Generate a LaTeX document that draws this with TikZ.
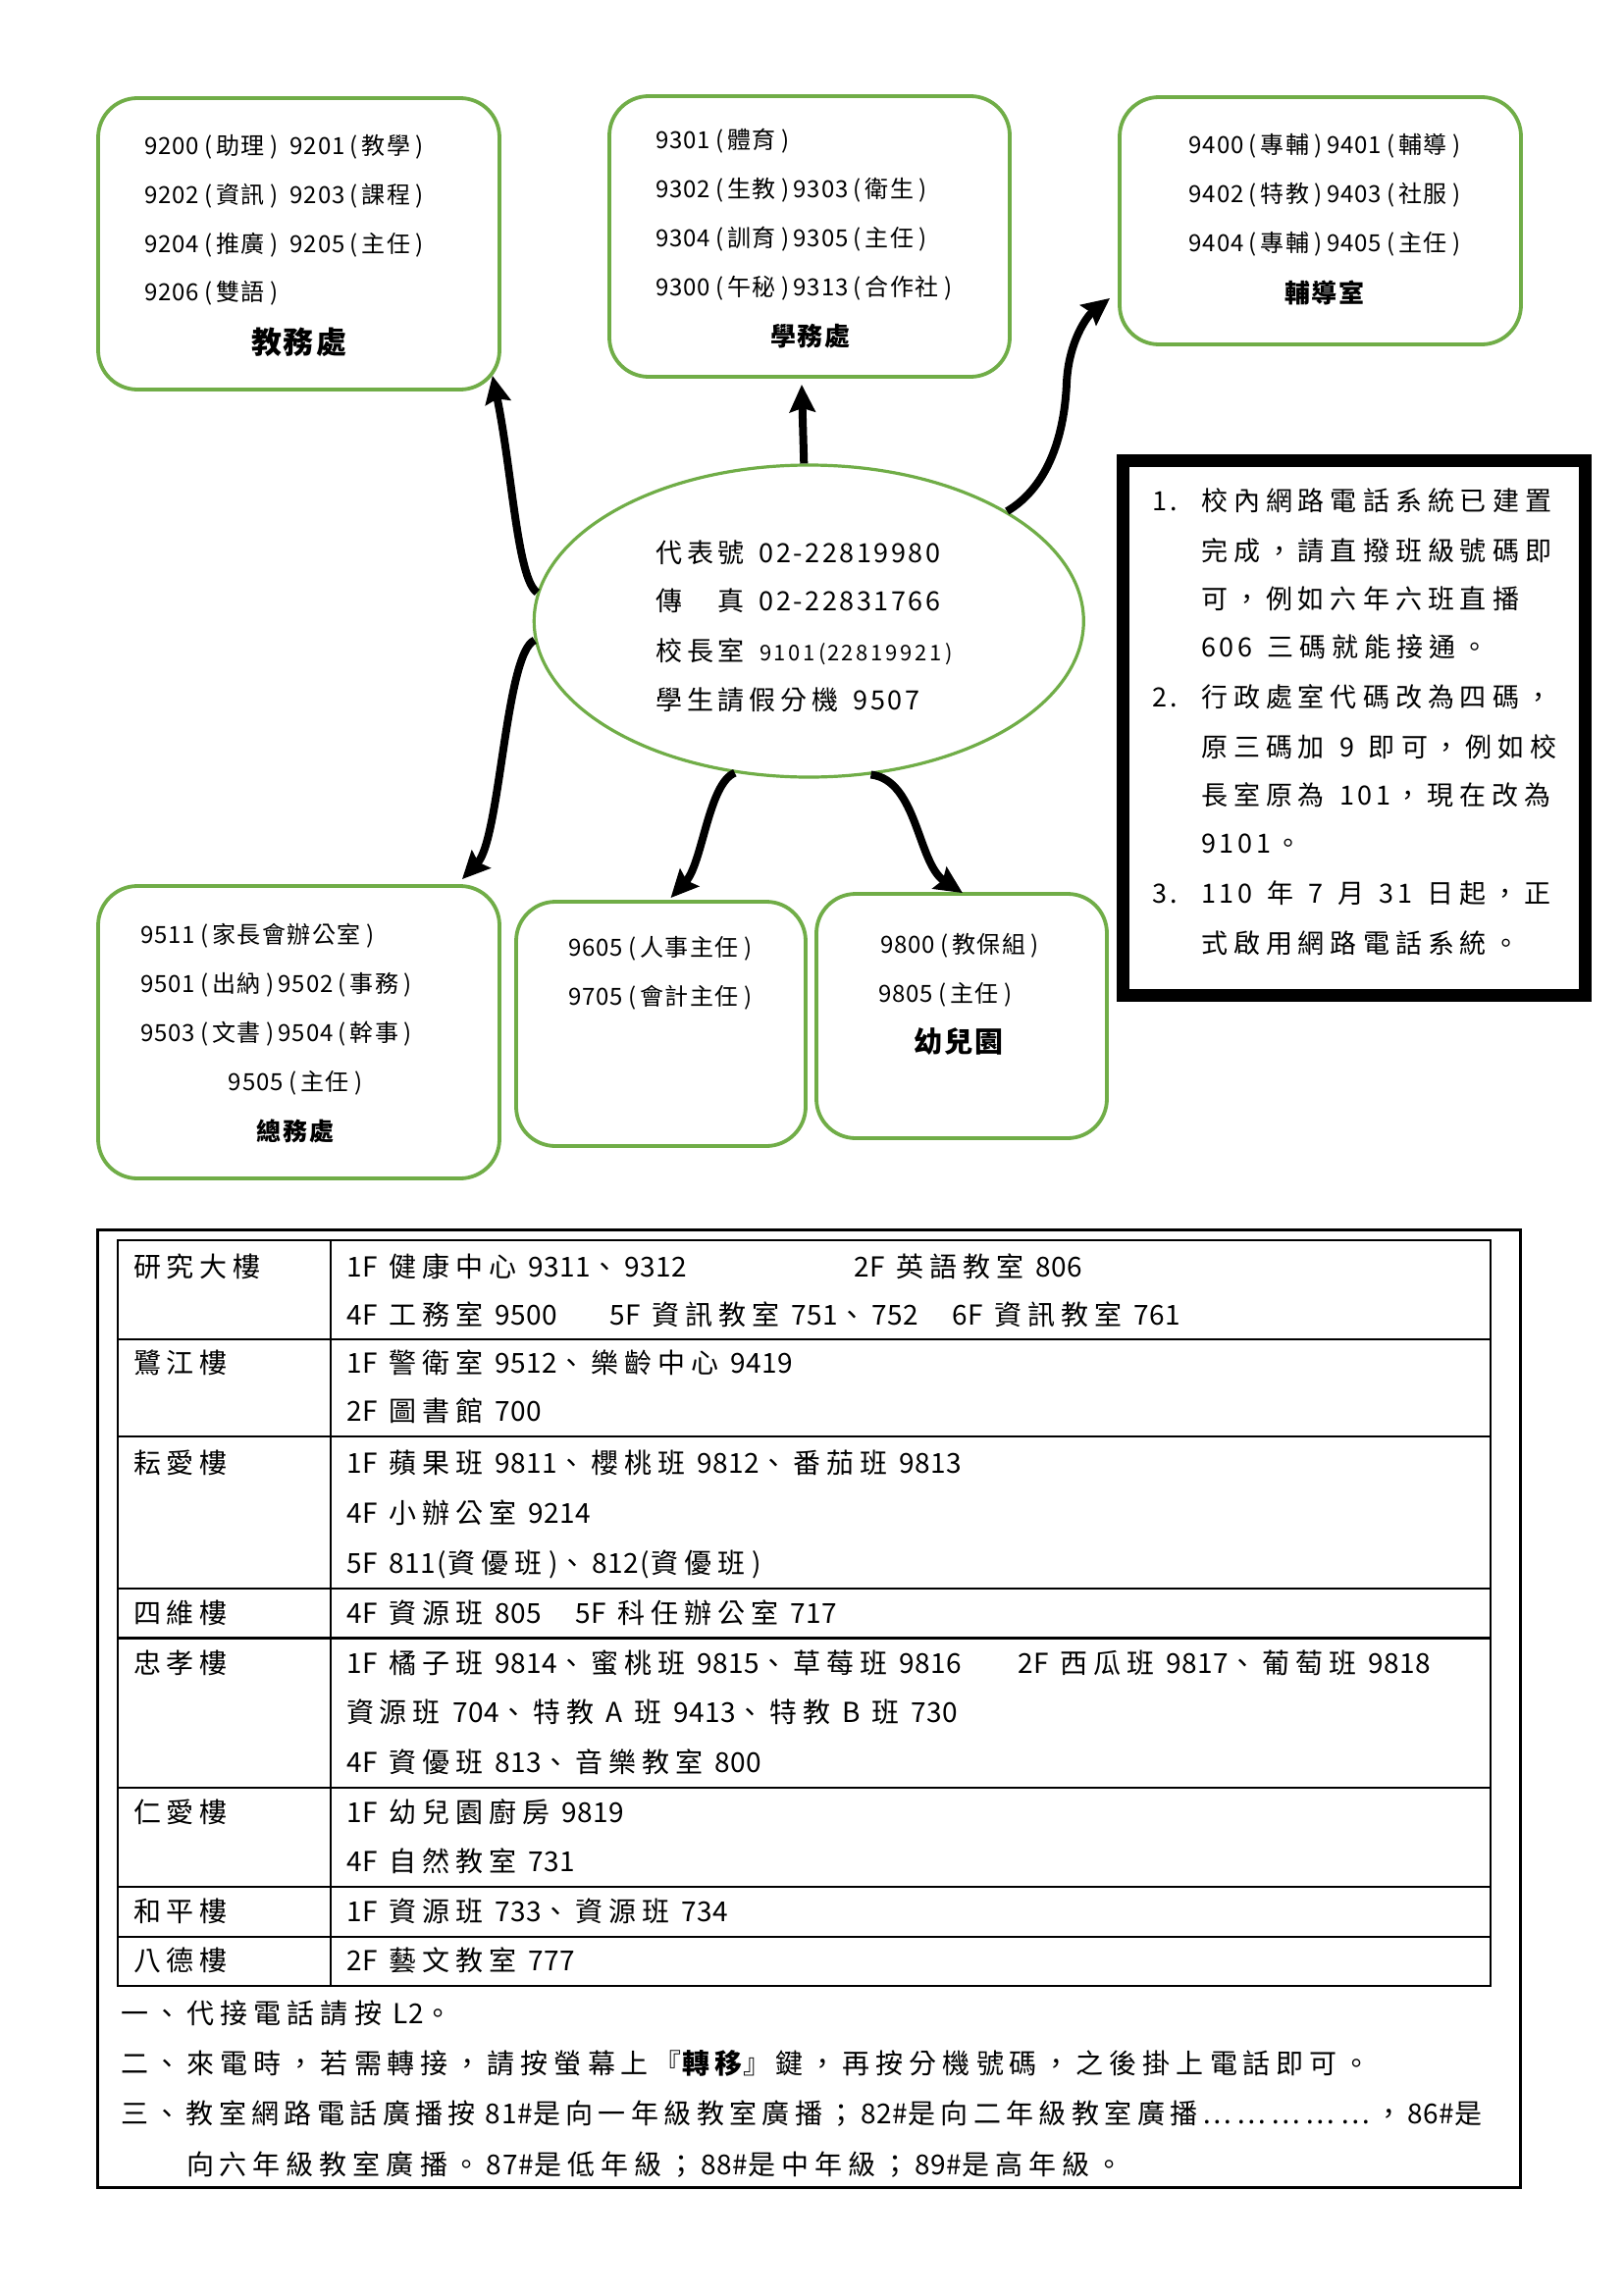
\documentclass[tikz,border=0pt]{standalone}
\usepackage{fontspec}
\setmainfont{Noto Sans CJK TC}
\usetikzlibrary{arrows.meta,shapes.geometric}
\definecolor{boxgreen}{RGB}{112,173,71}

% ---- inter-character spacing classes ----
\XeTeXinterchartokenstate=1
\newXeTeXintercharclass\CJKcls
\newXeTeXintercharclass\DIGcls
\newXeTeXintercharclass\PARcls
\newcount\cc
\cc="2E80 \loop \XeTeXcharclass\cc=\CJKcls \advance\cc by 1 \ifnum\cc<"A000 \repeat
\cc="FF00 \loop \XeTeXcharclass\cc=\CJKcls \advance\cc by 1 \ifnum\cc<"FFF0 \repeat
\XeTeXcharclass"2026=\CJKcls
\cc=48 \loop \XeTeXcharclass\cc=\DIGcls \advance\cc by 1 \ifnum\cc<58 \repeat
\cc=65 \loop \XeTeXcharclass\cc=\DIGcls \advance\cc by 1 \ifnum\cc<91 \repeat
\XeTeXcharclass45=\DIGcls \XeTeXcharclass46=\DIGcls \XeTeXcharclass35=\DIGcls
\XeTeXcharclass40=\PARcls \XeTeXcharclass41=\PARcls
\def\cjkgap{0pt}\def\diggap{0pt}\def\parpre{0pt}\def\parpost{0pt}
\XeTeXinterchartoks\CJKcls\CJKcls={\hskip\cjkgap\relax}
\XeTeXinterchartoks\CJKcls\DIGcls={\hskip\cjkgap\relax}
\XeTeXinterchartoks\CJKcls\PARcls={\hskip\dimexpr\cjkgap+\parpre\relax}
\XeTeXinterchartoks\DIGcls\DIGcls={\hskip\diggap\relax}
\XeTeXinterchartoks\DIGcls\CJKcls={\hskip\diggap\relax}
\XeTeXinterchartoks\DIGcls\PARcls={\hskip\dimexpr\diggap+\parpre\relax}
\XeTeXinterchartoks\PARcls\DIGcls={\hskip\parpost\relax}
\XeTeXinterchartoks\PARcls\CJKcls={\hskip\parpost\relax}
\XeTeXinterchartoks\PARcls\PARcls={\hskip\dimexpr\parpost+\parpre\relax}
\newcommand\gaps[5]{\def\cjkgap{#1}\def\diggap{#2}\def\parpre{#3}\def\parpost{#4}\spaceskip=#5\relax}

\tikzset{
  tx/.style={inner sep=0pt, outer sep=0pt, anchor=west},
  boxtxt/.style={tx, font={\fontsize{24pt}{28pt}\selectfont\gaps{1.5pt}{1pt}{4pt}{4pt}{12pt}}, text height=21.1pt, text depth=2.9pt},
  elltxt/.style={tx, font={\fontsize{27pt}{32pt}\selectfont\gaps{5pt}{2.5pt}{1pt}{1pt}{15pt}}, text height=23.8pt, text depth=3.2pt},
  notetxt/.style={tx, font={\fontsize{27pt}{32pt}\selectfont\gaps{6pt}{4pt}{1pt}{1pt}{15pt}}, text height=23.8pt, text depth=3.2pt},
  tabtxt/.style={tx, font={\fontsize{28pt}{33pt}\selectfont\gaps{6pt}{0.5pt}{1pt}{1pt}{12pt}}, text height=24.6pt, text depth=3.4pt},
  tighttxt/.style={tx, font={\fontsize{28pt}{33pt}\selectfont\gaps{5.4pt}{0.5pt}{1pt}{1pt}{10pt}}, text height=24.6pt, text depth=3.4pt},
  ttl/.style={inner sep=0pt, outer sep=0pt, anchor=center, font={\fontsize{#1pt}{#1pt}\selectfont\bfseries\gaps{2pt}{0pt}{0pt}{0pt}{8pt}}},
  gbox/.style={draw=boxgreen, line width=3.8pt, rounded corners=40pt, inner sep=0pt},
  conn/.style={line width=8pt, -{Stealth[length=28pt,width=26pt,inset=4pt]}},
}

\begin{document}
\begin{tikzpicture}[x=1pt,y=-1pt]
\useasboundingbox (0,0) rectangle (1654,2339);
\fill[white] (0,0) rectangle (1654,2339);

% ---------- top boxes ----------
\node[gbox, minimum width=409pt, minimum height=297pt] (b1) at (304.5,248.5) {};
\node[gbox, minimum width=408pt, minimum height=286pt] (b2) at (825,241) {};
\node[gbox, minimum width=409pt, minimum height=252pt] (b3) at (1345.5,225) {};

\node[boxtxt] (b1a) at (147,148) {9200(助理) 9201(教學)};
\node[boxtxt] (b1b) at (147,198) {9202(資訊) 9203(課程)};
\node[boxtxt] (b1c) at (147,248) {9204(推廣) 9205(主任)};
\node[boxtxt] (b1d) at (147,297) {9206(雙語)};
\node[ttl=31] (b1t) at (304.5,349) {教務處};

\node[boxtxt] (b2a) at (668,142) {9301(體育)};
\node[boxtxt] (b2b) at (668,192) {9302(生教)9303(衛生)};
\node[boxtxt] (b2c) at (668,242) {9304(訓育)9305(主任)};
\node[boxtxt] (b2d) at (668,292) {9300(午秘)9313(合作社)};
\node[ttl=26] (b2t) at (826,343) {學務處};

\node[boxtxt, anchor=center] (b3a) at (1350,147) {9400(專輔)9401(輔導)};
\node[boxtxt, anchor=center] (b3b) at (1350,197) {9402(特教)9403(社服)};
\node[boxtxt, anchor=center] (b3c) at (1350,247) {9404(專輔)9405(主任)};
\node[ttl=26] (b3t) at (1350,298) {輔導室};

% ---------- centre ellipse ----------
\node[ellipse, draw=boxgreen, line width=3.2pt, minimum width=560pt, minimum height=318pt, inner sep=0pt] (e) at (824.3,633) {};
\node[elltxt] (e1) at (668,563) {代表號 02-22819980};
\node[elltxt] (e2) at (668,612) {傳　真 02-22831766};
\node[elltxt] (e3) at (668,663) {校長室 {\fontsize{22pt}{26pt}\selectfont\gaps{5pt}{2.7pt}{1pt}{1pt}{15pt}9101(22819921)}};
\node[elltxt] (e4) at (668,713) {學生請假分機 9507};

% ---------- notes box ----------
\node[draw=black, line width=13pt, minimum width=471pt, minimum height=545pt, inner sep=0pt] (r) at (1380,741.5) {};
\node[notetxt] (n1) at (1174,510) {1.};
\node[notetxt] (n2) at (1174,710) {2.};
\node[notetxt] (n3) at (1174,910) {3.};
\node[notetxt] (r1) at (1224,510) {校內網路電話系統已建置};
\node[notetxt] (r2) at (1224,561) {完成，請直撥班級號碼即};
\node[notetxt] (r3) at (1224,610) {可，例如六年六班直播};
\node[notetxt] (r4) at (1224,659) {606 三碼就能接通。};
\node[notetxt] (r5) at (1224,710) {行政處室代碼改為四碼，};
\node[notetxt] (r6) at (1224,761) {原三碼加 9 即可，例如校};
\node[notetxt] (r7) at (1224,810) {長室原為 101，現在改為};
\node[notetxt] (r8) at (1224,859) {9101。};
\node[notetxt] (r9) at (1224,910) {110 年 7 月 31 日起，正};
\node[notetxt] (r10) at (1224,961) {式啟用網路電話系統。};

% ---------- bottom boxes ----------
\node[gbox, minimum width=409pt, minimum height=298pt] (b4) at (304.5,1052) {};
\node[gbox, minimum width=295pt, minimum height=249pt] (b5) at (673.5,1043.5) {};
\node[gbox, minimum width=296pt, minimum height=249pt] (b6) at (980,1035.5) {};

\node[boxtxt] (b4a) at (143,952) {9511(家長會辦公室)};
\node[boxtxt] (b4b) at (143,1002) {9501(出納)9502(事務)};
\node[boxtxt] (b4c) at (143,1052) {9503(文書)9504(幹事)};
\node[boxtxt, anchor=center] (b4d) at (301,1102) {9505(主任)};
\node[ttl=25] (b4t) at (301,1153) {總務處};

\node[boxtxt] (b5a) at (579,965) {9605(人事主任)};
\node[boxtxt] (b5b) at (579,1015) {9705(會計主任)};

\node[boxtxt] (b6a) at (897,962) {9800(教保組)};
\node[boxtxt] (b6b) at (895,1012) {9805(主任)};
\node[ttl=29] (b6t) at (977,1062) {幼兒園};

% ---------- connectors ----------
\draw[conn] (e.174) .. controls (527,590) and (522,480) .. ([shift={(-9,-16)}]b1.south east);
\draw[conn] ([xshift=-5pt]e.north) -- ([shift={(-8,6)}]b2.south);
\draw[conn] (e.29) .. controls (1070,495) and (1085,440) .. (1087,390)
            .. controls (1089,348) and (1108,322) .. ([shift={(-8,-49)}]b3.south west);
\draw[conn] (e.184) .. controls (515,665) and (510,855) .. ([shift={(-40,-5)}]b4.north east);
\draw[conn] (e.244) .. controls (722,798) and (716,880) .. ([shift={(10,-2)}]b5.north);
\draw[conn] (e.292) .. controls (935,795) and (935,880) .. ([shift={(1,1)}]b6.north);

% ---------- table ----------
\draw[line width=3pt] (99,1253) rectangle (1549,2229);
\draw[line width=2.7pt] (120,1264) rectangle (1519,2024);
\draw[line width=2pt] (337,1264) -- (337,2024);
\foreach \yy in {1365,1464,1619,1669.5,1822,1923,1974}
  \draw[line width=2.7pt] (120,\yy) -- (1519,\yy);

\node[tabtxt] (k1) at (136,1291) {研究大樓};
\node[tabtxt] (k2) at (136,1389) {鷺江樓};
\node[tabtxt] (k3) at (136,1491) {耘愛樓};
\node[tabtxt] (k4) at (136,1644) {四維樓};
\node[tabtxt] (k5) at (136,1695) {忠孝樓};
\node[tabtxt] (k6) at (136,1847) {仁愛樓};
\node[tabtxt] (k7) at (136,1948) {和平樓};
\node[tabtxt] (k8) at (136,1998) {八德樓};

\node[tabtxt] (v1a) at (353,1291) {1F 健康中心 9311、9312};
\node[tabtxt] (v1b) at (870,1291) {2F 英語教室 806};
\node[tabtxt] (v1c) at (353,1340) {4F 工務室 9500};
\node[tabtxt] (v1d) at (621,1340) {5F 資訊教室 751、752};
\node[tabtxt] (v1e) at (970,1340) {6F 資訊教室 761};
\node[tabtxt] (v2a) at (353,1389) {1F 警衛室 9512、樂齡中心 9419};
\node[tabtxt] (v2b) at (353,1438) {2F 圖書館 700};
\node[tabtxt] (v3a) at (353,1491) {1F 蘋果班 9811、櫻桃班 9812、番茄班 9813};
\node[tabtxt] (v3b) at (353,1542) {4F 小辦公室 9214};
\node[tabtxt] (v3c) at (353,1593) {5F 811(資優班)、812(資優班)};
\node[tabtxt] (v4a) at (353,1644) {4F 資源班 805};
\node[tabtxt] (v4b) at (586,1644) {5F 科任辦公室 717};
\node[tabtxt] (v5a) at (353,1695) {1F 橘子班 9814、蜜桃班 9815、草莓班 9816};
\node[tabtxt] (v5b) at (1037,1695) {2F 西瓜班 9817、葡萄班 9818};
\node[tabtxt] (v5c) at (353,1745) {資源班 704、特教 A 班 9413、特教 B 班 730};
\node[tabtxt] (v5d) at (353,1796) {4F 資優班 813、音樂教室 800};
\node[tabtxt] (v6a) at (353,1847) {1F 幼兒園廚房 9819};
\node[tabtxt] (v6b) at (353,1897) {4F 自然教室 731};
\node[tabtxt] (v7a) at (353,1948) {1F 資源班 733、資源班 734};
\node[tabtxt] (v8a) at (353,1998) {2F 藝文教室 777};

\node[tabtxt] (m1) at (123,2052) {一、代接電話請按 L2。};
\node[tabtxt] (m2) at (123,2103) {二、來電時，若需轉接，請按螢幕上『{\bfseries 轉移}』鍵，再按分機號碼，之後掛上電話即可。};
\node[tighttxt] (m3) at (123,2154) {三、教室網路電話廣播按 81\#是向一年級教室廣播；82\#是向二年級教室廣播……………，86\#是};
\node[tabtxt] (m4) at (190,2206) {向六年級教室廣播。87\#是低年級；88\#是中年級；89\#是高年級。};
\end{tikzpicture}
\end{document}
